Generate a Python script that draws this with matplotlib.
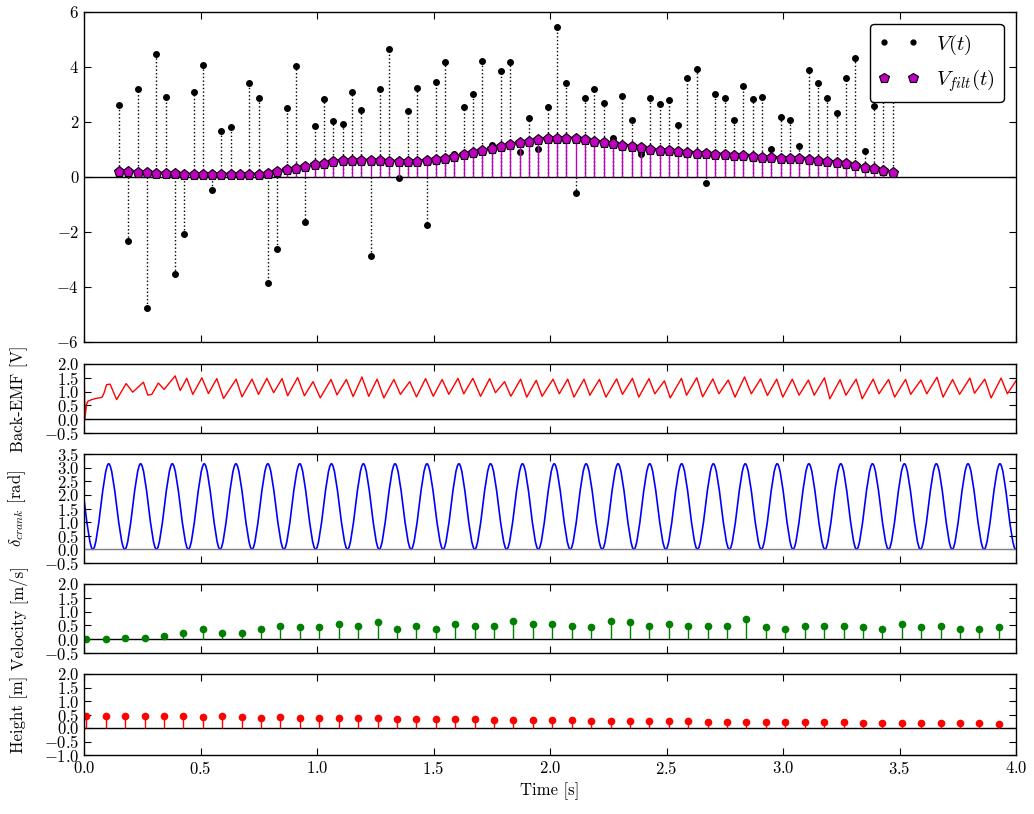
import numpy as np
import matplotlib
matplotlib.use('Agg')
import matplotlib.pyplot as plt
from matplotlib.path import Path
from matplotlib.patches import PathPatch
from matplotlib.lines import Line2D

plt.rcParams.update({
    'font.family': 'serif',
    'font.serif': ['cmr10'],
    'mathtext.fontset': 'cm',
    'axes.formatter.use_mathtext': True,
    'xtick.direction': 'in', 'ytick.direction': 'in',
    'xtick.top': True, 'ytick.right': True,
    'xtick.major.size': 5, 'ytick.major.size': 5,
    'xtick.minor.visible': False, 'ytick.minor.visible': False,
    'axes.linewidth': 1.0,
    'xtick.labelsize': 12, 'ytick.labelsize': 12,
    'axes.labelsize': 12,
})

# ---------------- data ----------------
v_time = np.round(0.15 + 0.04 * np.arange(84), 2)
v_raw = [2.61, -2.33, 3.18, -4.79, 4.48, 2.91, -3.55, -2.08, 3.08, 4.06,
         -0.48, 1.68, 1.82, 0.10, 3.39, 2.86, -3.88, -2.64, 2.50, 4.01,
         -1.64, 1.85, 2.82, 2.01, 1.92, 3.08, 2.44, -2.90, 3.18, 4.65,
         -0.04, 2.38, 3.24, -1.76, 3.44, 4.18, 0.82, 2.55, 2.99, 4.19,
         1.16, 3.85, 4.16, 0.90, 2.13, 1.02, 2.53, 5.43, 3.42, -0.58,
         2.88, 3.18, 2.69, 1.39, 2.92, 2.07, 0.82, 2.88, 2.63, 2.80,
         1.88, 3.59, 3.90, -0.24, 3.01, 2.86, 2.06, 3.31, 2.84, 2.90,
         0.99, 2.16, 2.05, 1.12, 3.89, 3.41, 2.85, 2.32, 3.58, 4.30,
         0.93, 2.58, 3.07, 2.91]
v_filt = [0.18, 0.17, 0.15, 0.13, 0.11, 0.10, 0.09, 0.08, 0.08, 0.07,
          0.07, 0.06, 0.06, 0.05, 0.07, 0.08, 0.11, 0.16, 0.23, 0.29,
          0.35, 0.41, 0.47, 0.53, 0.56, 0.58, 0.58, 0.57, 0.56, 0.55,
          0.53, 0.53, 0.55, 0.56, 0.59, 0.64, 0.70, 0.78, 0.85, 0.93,
          1.01, 1.08, 1.15, 1.22, 1.28, 1.33, 1.37, 1.38, 1.38, 1.37,
          1.33, 1.28, 1.24, 1.18, 1.13, 1.08, 1.03, 0.98, 0.95, 0.92,
          0.90, 0.87, 0.84, 0.81, 0.80, 0.78, 0.76, 0.74, 0.72, 0.69,
          0.67, 0.65, 0.64, 0.63, 0.59, 0.56, 0.53, 0.50, 0.45, 0.39,
          0.33, 0.27, 0.19, 0.13]

emf_t = [0.000, 0.004, 0.011, 0.017, 0.030, 0.050, 0.070, 0.078, 0.086, 0.097,
         0.112, 0.140, 0.181, 0.209, 0.255, 0.274, 0.291, 0.319, 0.344, 0.391,
         0.413, 0.441, 0.467, 0.506, 0.534, 0.570, 0.599, 0.653, 0.678, 0.721,
         0.749, 0.785, 0.814, 0.850, 0.874, 0.917, 0.946, 0.983, 1.014, 1.060,
         1.086, 1.126, 1.155, 1.193, 1.222, 1.258, 1.287, 1.330, 1.358, 1.398,
         1.427, 1.466, 1.499, 1.537, 1.566, 1.605, 1.630, 1.669, 1.702, 1.741,
         1.766, 1.805, 1.832, 1.874, 1.900, 1.941, 1.966, 2.013, 2.040, 2.076,
         2.103, 2.146, 2.171, 2.212, 2.240, 2.286, 2.311, 2.354, 2.381, 2.425,
         2.450, 2.491, 2.516, 2.564, 2.586, 2.630, 2.655, 2.699, 2.725, 2.765,
         2.794, 2.835, 2.864, 2.904, 2.933, 2.973, 2.999, 3.040, 3.069, 3.109,
         3.134, 3.178, 3.201, 3.245, 3.270, 3.314, 3.340, 3.387, 3.412, 3.453,
         3.479, 3.526, 3.548, 3.592, 3.617, 3.661, 3.687, 3.728, 3.758, 3.802,
         3.822, 3.866, 3.893, 3.936, 3.963, 4.000]
emf_v = [2.00, 0.02, 0.55, 0.65, 0.70, 0.75, 0.78, 0.80, 0.95, 1.25,
         1.27, 0.71, 1.29, 0.98, 1.34, 0.87, 0.90, 1.31, 1.08, 1.57,
         1.04, 1.48, 0.90, 1.50, 0.93, 1.47, 0.75, 1.45, 0.81, 1.45,
         0.90, 1.48, 0.96, 1.47, 0.85, 1.51, 0.85, 1.36, 0.77, 1.44,
         0.88, 1.44, 0.82, 1.53, 0.83, 1.45, 0.77, 1.44, 0.90, 1.36,
         0.81, 1.47, 0.83, 1.44, 0.90, 1.48, 0.92, 1.48, 0.83, 1.47,
         0.96, 1.36, 0.83, 1.45, 0.80, 1.41, 0.83, 1.45, 0.92, 1.45,
         0.80, 1.45, 0.87, 1.44, 0.80, 1.46, 0.90, 1.48, 0.80, 1.47,
         0.92, 1.39, 0.77, 1.48, 0.87, 1.50, 0.81, 1.46, 0.92, 1.42,
         0.80, 1.53, 0.92, 1.46, 0.86, 1.45, 0.80, 1.45, 0.87, 1.42,
         0.87, 1.50, 0.74, 1.43, 0.87, 1.45, 0.74, 1.45, 0.92, 1.44,
         0.80, 1.44, 0.90, 1.42, 0.92, 1.52, 0.80, 1.44, 0.90, 1.49,
         0.94, 1.45, 0.77, 1.49, 0.92, 1.39]

# crank angle extrema (peak / trough times and values)
crank_t = [-0.030, 0.038, 0.106, 0.175, 0.243, 0.311, 0.379, 0.448, 0.516, 0.584,
           0.652, 0.721, 0.789, 0.858, 0.926, 0.994, 1.062, 1.131, 1.199, 1.267,
           1.335, 1.404, 1.472, 1.541, 1.609, 1.677, 1.745, 1.814, 1.882, 1.950,
           2.018, 2.087, 2.155, 2.224, 2.292, 2.360, 2.428, 2.497, 2.565, 2.633,
           2.701, 2.770, 2.838, 2.907, 2.975, 3.043, 3.111, 3.180, 3.248, 3.316,
           3.384, 3.453, 3.521, 3.590, 3.658, 3.726, 3.794, 3.863, 3.931, 3.999]
crank_v = [3.14, 0.0] * 30

kin_time = np.round(0.01 + np.arange(48) / 12.0, 3)
velocity = [0.00, 0.00, 0.06, 0.06, 0.12, 0.24, 0.37, 0.24, 0.24, 0.37,
            0.49, 0.43, 0.43, 0.55, 0.49, 0.61, 0.37, 0.49, 0.37, 0.55,
            0.49, 0.49, 0.67, 0.55, 0.55, 0.49, 0.43, 0.67, 0.61, 0.49,
            0.55, 0.49, 0.49, 0.49, 0.73, 0.43, 0.37, 0.49, 0.49, 0.49,
            0.43, 0.37, 0.55, 0.43, 0.49, 0.37, 0.37, 0.43]
height = [0.44, 0.44, 0.44, 0.43, 0.44, 0.43, 0.40, 0.43, 0.40, 0.38,
          0.40, 0.38, 0.38, 0.36, 0.36, 0.36, 0.33, 0.33, 0.33, 0.33,
          0.33, 0.31, 0.31, 0.28, 0.28, 0.28, 0.27, 0.27, 0.27, 0.26,
          0.27, 0.25, 0.23, 0.23, 0.23, 0.23, 0.22, 0.22, 0.22, 0.21,
          0.20, 0.18, 0.20, 0.20, 0.18, 0.18, 0.18, 0.16]

# ---------------- figure ----------------
W, H = 1034, 814
fig = plt.figure(figsize=(W / 100, H / 100), dpi=100, facecolor='white')


def rect(top, bottom, left=84, right=1016):
    return [left / W, 1 - bottom / H, (right - left) / W, (bottom - top) / H]


ax1 = fig.add_axes(rect(11.7, 341.7))
ax2 = fig.add_axes(rect(364, 433), sharex=ax1)
ax3 = fig.add_axes(rect(454, 563), sharex=ax1)
ax4 = fig.add_axes(rect(584, 653), sharex=ax1)
ax5 = fig.add_axes(rect(674, 755), sharex=ax1)

# top: raw and filtered voltage stems
ax1.axhline(0, color='k', lw=1, zorder=1)
ax1.vlines(v_time, 0, v_raw, colors='k', linestyles=':', lw=1, zorder=2)
ax1.plot(v_time, v_raw, 'o', color='k', ms=4, zorder=3)
ax1.vlines(v_time, 0, v_filt, colors='m', lw=1, zorder=4)
ax1.plot(v_time, v_filt, 'p', color='m', mec='k', mew=0.8, ms=8, zorder=5)
ax1.set_ylim(-6, 6)
ax1.set_yticks(np.arange(-6, 7, 2))
handles = [Line2D([], [], ls='none', marker='o', color='k', ms=3.5),
           Line2D([], [], ls='none', marker='p', color='m', mec='k', mew=0.8, ms=7)]
leg = ax1.legend(handles, [r'$V(t)$', r'$V_{filt}(t)$'], loc='upper right',
                 numpoints=2, fontsize=15, fancybox=True, framealpha=1,
                 edgecolor='k', borderaxespad=0.6)
leg.get_frame().set_linewidth(1.0)

# back-EMF
ax2.axhline(0, color='k', lw=1)
ax2.plot(emf_t, emf_v, color='r', lw=1)
ax2.set_ylim(-0.5, 2.0)
ax2.set_yticks(np.arange(-0.5, 2.01, 0.5))
ax2.set_ylabel('Back-EMF [V]')

# crank angle (smooth segments between extrema)
verts = [(crank_t[0], crank_v[0])]
codes = [Path.MOVETO]
for i in range(1, len(crank_t)):
    t0, v0 = crank_t[i - 1], crank_v[i - 1]
    t1, v1 = crank_t[i], crank_v[i]
    d = t1 - t0
    verts += [(t0 + d / 3, v0), (t1 - d / 3, v1), (t1, v1)]
    codes += [Path.CURVE4] * 3
ax3.axhline(0, color='0.5', lw=1)
ax3.add_patch(PathPatch(Path(verts, codes), facecolor='none', edgecolor='b', lw=1.2))
ax3.set_ylim(-0.5, 3.5)
ax3.set_yticks(np.arange(-0.5, 3.51, 0.5))
ax3.set_ylabel(r'$\delta_{crank}$ [rad]')

# velocity
ax4.axhline(0, color='k', lw=1)
ax4.vlines(kin_time, 0, velocity, colors='g', lw=1)
ax4.plot(kin_time, velocity, 'o', color='g', mec='g', ms=4.5)
ax4.set_ylim(-0.5, 2.0)
ax4.set_yticks(np.arange(-0.5, 2.01, 0.5))
ax4.set_ylabel('Velocity [m/s]')

# height
ax5.axhline(0, color='k', lw=1)
ax5.vlines(kin_time, 0, height, colors='r', lw=1)
ax5.plot(kin_time, height, 'o', color='r', mec='r', ms=4.5)
ax5.set_ylim(-1.0, 2.0)
ax5.set_yticks(np.arange(-1.0, 2.01, 0.5))
ax5.set_ylabel('Height [m]')
ax5.set_xlabel('Time [s]')

ax1.set_xlim(0, 4)
ax1.set_xticks(np.arange(0, 4.01, 0.5))
for ax in (ax1, ax2, ax3, ax4):
    ax.tick_params(labelbottom=False)
for ax in (ax2, ax3, ax4, ax5):
    ax.yaxis.set_label_coords(-0.060, 0.5)

fig.savefig('out.png', dpi=100, facecolor='white')
